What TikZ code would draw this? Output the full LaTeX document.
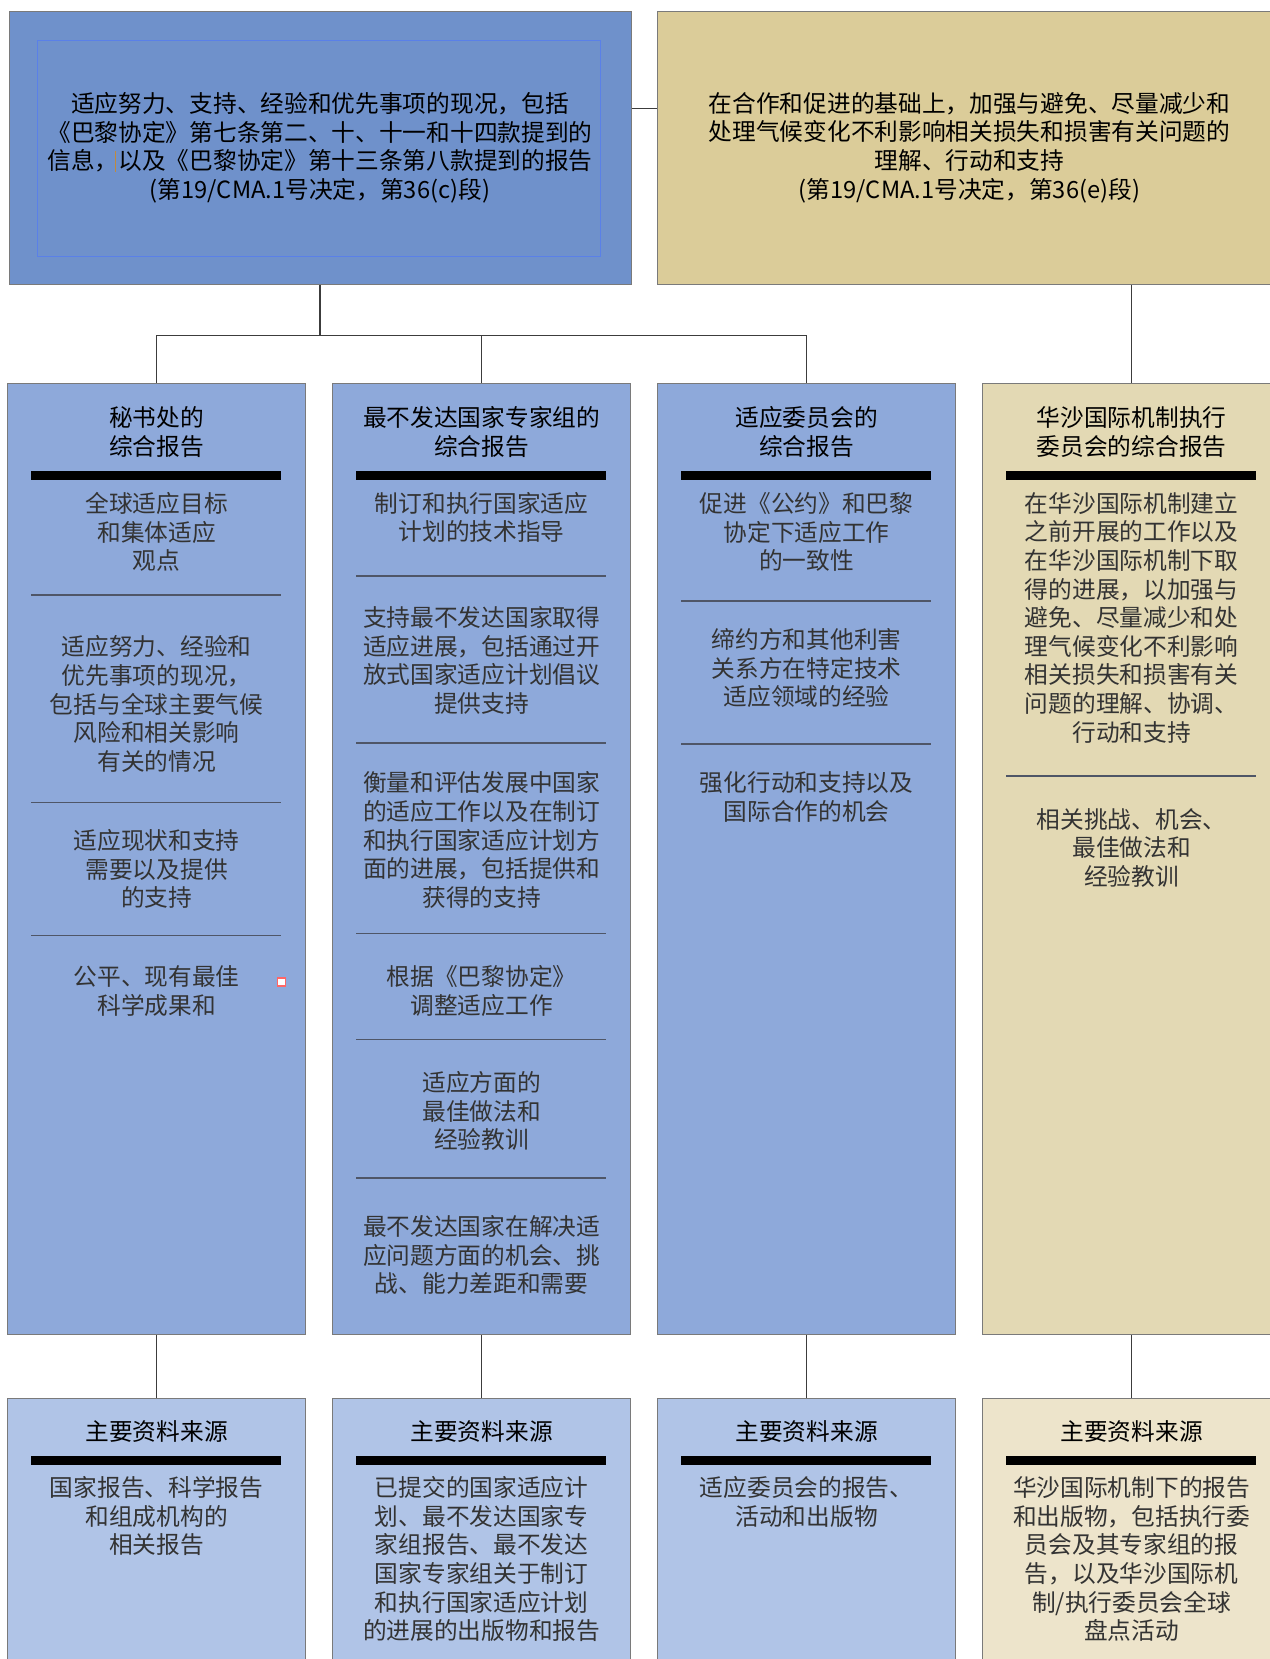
\documentclass[tikz,border=0pt]{standalone}
\usepackage{fontspec}
\setmainfont{Noto Sans CJK SC}
\usetikzlibrary{positioning}
\definecolor{tlblue}{HTML}{6F91CB}
\definecolor{trtan}{HTML}{DBCC99}
\definecolor{colblue}{HTML}{8EA9DA}
\definecolor{coltan}{HTML}{E3D9B4}
\definecolor{srcblue}{HTML}{B0C4E7}
\definecolor{srctan}{HTML}{EDE4CB}
\definecolor{boxgray}{HTML}{7A7A7A}
\definecolor{sepgray}{HTML}{4F5667}
\definecolor{linkgray}{HTML}{3C3C3C}
\definecolor{txtgray}{HTML}{333333}
\definecolor{framecol}{HTML}{5A80E8}
\definecolor{cursorcol}{HTML}{C08A3E}
\tikzset{
  bigbox/.style={draw=boxgray, line width=1pt, rectangle, minimum height=273pt,
    inner sep=0pt, align=center, text=black,
    font=\fontsize{23.7pt}{28.6pt}\selectfont
  },
  colbox/.style={draw=boxgray, line width=1pt, rectangle, minimum height=951pt,
    minimum width=298pt, inner sep=0pt
  },
  srcbox/.style={draw=boxgray, line width=1pt, rectangle, minimum height=300pt,
    minimum width=298pt, inner sep=0pt
  },
  head/.style={align=center, text=black, font=\fontsize{23.7pt}{28.6pt}\selectfont},
  txt/.style={align=center, text=txtgray, font=\fontsize{23.7pt}{28.6pt}\selectfont},
  bar/.style={line width=9pt},
  sep/.style={draw=sepgray, line width=1.5pt},
  link/.style={draw=linkgray, line width=1.2pt}
}

\begin{document}
\begin{tikzpicture}[x=1pt, y=-1pt]
   \path[use as bounding box, fill=white] (0,0) rectangle (1269,1659);

   \node[bigbox, fill=tlblue, minimum width=622pt, anchor=north west] (tl) at (8.5,10.6)
     {适应努力、支持、经验和优先事项的现况，包括\\《巴黎协定》第七条第二、十、十一和十四款提到的\\信息，以及《巴黎协定》第十三条第八款提到的报告\\(第19/CMA.1号决定，第36(c)段)};
   \node[bigbox, fill=trtan, minimum width=624pt, right=25.5pt of tl] (tr)
     {在合作和促进的基础上，加强与避免、尽量减少和\\处理气候变化不利影响相关损失和损害有关问题的\\理解、行动和支持\\(第19/CMA.1号决定，第36(e)段)};
   \draw[framecol, line width=0.8pt] ([xshift=28.5pt,yshift=-29.6pt]tl.north west) rectangle ([xshift=-31.5pt,yshift=28pt]tl.south east);
   \draw[cursorcol, line width=1.2pt] (115.5,151) -- (115.5,172);

   \node[colbox, fill=colblue, anchor=north] (col1) at (156.6,383) {};
   \node[colbox, fill=colblue, right=26pt of col1] (col2) {};
   \node[colbox, fill=colblue, right=26pt of col2] (col3) {};
   \node[colbox, fill=coltan, right=26pt of col3] (col4) {};

   \node[srcbox, fill=srcblue, below=63pt of col1] (src1) {};
   \node[srcbox, fill=srcblue, below=63pt of col2] (src2) {};
   \node[srcbox, fill=srcblue, below=63pt of col3] (src3) {};
   \node[srcbox, fill=srctan, below=63pt of col4] (src4) {};

   \coordinate[below=51pt of tl] (hub);
   \draw[link] (tl) -- (hub);
   \draw[link] (col1.north) |- (hub) -| (col3.north);
   \draw[link] (col2.north) -- (col2.north |- hub);
   \draw[link] ([yshift=39.3pt]tl.east) -- ([yshift=39.3pt]tr.west);
   \draw[link] (tr.south -| col4.north) -- (col4.north);
   \draw[link] (col1) -- (src1);
   \draw[link] (col2) -- (src2);
   \draw[link] (col3) -- (src3);
   \draw[link] (col4) -- (src4);

   \draw[bar] ([xshift=24pt,yshift=-92pt]col1.north west) -- ++(250pt,0);
   \draw[bar] ([xshift=24pt,yshift=-92pt]col2.north west) -- ++(250pt,0);
   \draw[bar] ([xshift=24pt,yshift=-92pt]col3.north west) -- ++(250pt,0);
   \draw[bar] ([xshift=24pt,yshift=-92pt]col4.north west) -- ++(250pt,0);
   \draw[bar] ([xshift=24pt,yshift=-62.5pt]src1.north west) -- ++(250pt,0);
   \draw[bar] ([xshift=24pt,yshift=-62.5pt]src2.north west) -- ++(250pt,0);
   \draw[bar] ([xshift=24pt,yshift=-62.5pt]src3.north west) -- ++(250pt,0);
   \draw[bar] ([xshift=24pt,yshift=-62.5pt]src4.north west) -- ++(250pt,0);

   \draw[sep] ([xshift=24pt,yshift=-211.8pt]col1.north west) -- ++(250pt,0);
   \draw[sep] ([xshift=24pt,yshift=-419.3pt]col1.north west) -- ++(250pt,0);
   \draw[sep] ([xshift=24pt,yshift=-552.6pt]col1.north west) -- ++(250pt,0);
   \draw[sep] ([xshift=24pt,yshift=-192.8pt]col2.north west) -- ++(250pt,0);
   \draw[sep] ([xshift=24pt,yshift=-360pt]col2.north west) -- ++(250pt,0);
   \draw[sep] ([xshift=24pt,yshift=-550.5pt]col2.north west) -- ++(250pt,0);
   \draw[sep] ([xshift=24pt,yshift=-656.3pt]col2.north west) -- ++(250pt,0);
   \draw[sep] ([xshift=24pt,yshift=-795pt]col2.north west) -- ++(250pt,0);
   \draw[sep] ([xshift=24pt,yshift=-218pt]col3.north west) -- ++(250pt,0);
   \draw[sep] ([xshift=24pt,yshift=-361pt]col3.north west) -- ++(250pt,0);
   \draw[sep] ([xshift=24pt,yshift=-392.8pt]col4.north west) -- ++(250pt,0);

   \node[head] (h1) at ([yshift=-49pt]col1.north) {秘书处的\\综合报告};
   \node[head] (h2) at ([yshift=-49pt]col2.north) {最不发达国家专家组的\\综合报告};
   \node[head] (h3) at ([yshift=-49pt]col3.north) {适应委员会的\\综合报告};
   \node[head] (h4) at ([yshift=-49pt]col4.north) {华沙国际机制执行\\委员会的综合报告};

   \node[txt] (t1a) at ([yshift=-149pt]col1.north) {全球适应目标\\和集体适应\\观点};
   \node[txt] (t1b) at ([yshift=-321pt]col1.north) {适应努力、经验和\\优先事项的现况，\\包括与全球主要气候\\风险和相关影响\\有关的情况};
   \node[txt] (t1c) at ([yshift=-486pt]col1.north) {适应现状和支持\\需要以及提供\\的支持};
   \node[txt] (t1d) at ([yshift=-608pt]col1.north) {公平、现有最佳\\科学成果和};
   \node[draw=red!60, fill=white, line width=1.5pt, minimum size=8pt, inner sep=0pt] (note) at (281.5,982) {};

   \node[txt] (t2a) at ([yshift=-134.5pt]col2.north) {制订和执行国家适应\\计划的技术指导};
   \node[txt] (t2b) at ([yshift=-277.5pt]col2.north) {支持最不发达国家取得\\适应进展，包括通过开\\放式国家适应计划倡议\\提供支持};
   \node[txt] (t2c) at ([yshift=-457pt]col2.north) {衡量和评估发展中国家\\的适应工作以及在制订\\和执行国家适应计划方\\面的进展，包括提供和\\获得的支持};
   \node[txt] (t2d) at ([yshift=-608pt]col2.north) {根据《巴黎协定》\\调整适应工作};
   \node[txt] (t2e) at ([yshift=-728pt]col2.north) {适应方面的\\最佳做法和\\经验教训};
   \node[txt] (t2f) at ([yshift=-872pt]col2.north) {最不发达国家在解决适\\应问题方面的机会、挑\\战、能力差距和需要};

   \node[txt] (t3a) at ([yshift=-149pt]col3.north) {促进《公约》和巴黎\\协定下适应工作\\的一致性};
   \node[txt] (t3b) at ([yshift=-285pt]col3.north) {缔约方和其他利害\\关系方在特定技术\\适应领域的经验};
   \node[txt] (t3c) at ([yshift=-414pt]col3.north) {强化行动和支持以及\\国际合作的机会};

   \node[txt] (t4a) at ([yshift=-234.7pt]col4.north) {在华沙国际机制建立\\之前开展的工作以及\\在华沙国际机制下取\\得的进展，以加强与\\避免、尽量减少和处\\理气候变化不利影响\\相关损失和损害有关\\问题的理解、协调、\\行动和支持};
   \node[txt] (t4b) at ([yshift=-464.7pt]col4.north) {相关挑战、机会、\\最佳做法和\\经验教训};

   \node[head] (g1) at ([yshift=-33pt]src1.north) {主要资料来源};
   \node[head] (g2) at ([yshift=-33pt]src2.north) {主要资料来源};
   \node[head] (g3) at ([yshift=-33pt]src3.north) {主要资料来源};
   \node[head] (g4) at ([yshift=-33pt]src4.north) {主要资料来源};
   \node[txt] (s1) at ([yshift=-118.3pt]src1.north) {国家报告、科学报告\\和组成机构的\\相关报告};
   \node[txt] (s2) at ([yshift=-161.2pt]src2.north) {已提交的国家适应计\\划、最不发达国家专\\家组报告、最不发达\\国家专家组关于制订\\和执行国家适应计划\\的进展的出版物和报告};
   \node[txt] (s3) at ([yshift=-104pt]src3.north) {适应委员会的报告、\\活动和出版物};
   \node[txt] (s4) at ([yshift=-161.2pt]src4.north) {华沙国际机制下的报告\\和出版物，包括执行委\\员会及其专家组的报\\告，以及华沙国际机\\制/执行委员会全球\\盘点活动};
\end{tikzpicture}
\end{document}
